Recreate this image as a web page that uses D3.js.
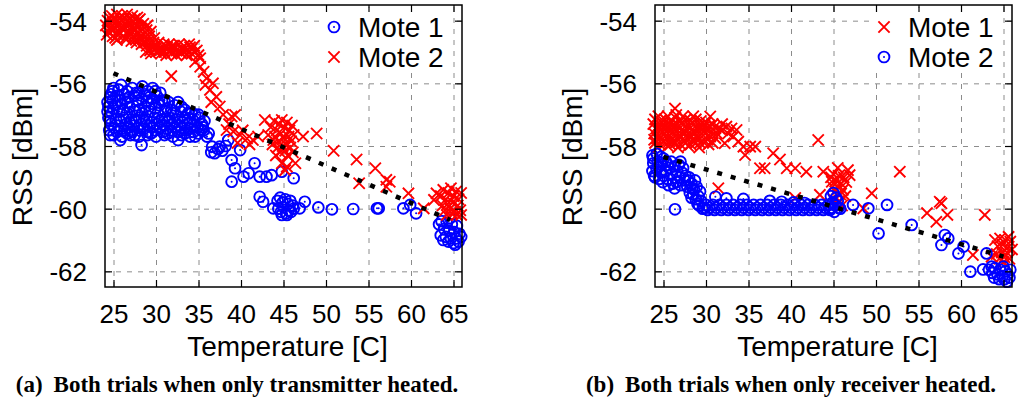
<!DOCTYPE html>
<html>
<head>
<meta charset="utf-8">
<script src="https://cdnjs.cloudflare.com/ajax/libs/d3/7.8.5/d3.min.js"></script>
<style>
body { margin: 0; background: #fff; }
svg text { font-family: "Liberation Sans", Arial, sans-serif; fill: #000; }
.caption { font-family: "Liberation Serif", "Times New Roman", serif; font-weight: bold; }
.grid line { stroke: #8c8c8c; stroke-width: 1; stroke-dasharray: 5,6; }
.grid path, .mirror path, .axis path { display: none; }
.axis line, .mirror line { stroke: #000; stroke-width: 1.2; }
</style>
</head>
<body>
<svg id="fig" width="1027" height="403"></svg>
<script>
// axis ticks / ranges
var xTicks = [25, 30, 35, 40, 45, 50, 55, 60, 65];
var yTicks = [-54, -56, -58, -60, -62];
var xDomain = [24, 66];
var yDomain = [-62.5, -53.5];

// (a) only transmitter heated : [temperature C, RSS dBm]
var txHeatedMote1 = [
  [25.0,-56.15],[25.9,-56.05],[26.6,-56.25],[27.2,-56.15],[28.0,-56.3],[28.4,-56.1],[29.0,-56.25],[29.6,-56.15],[24.7,-56.35],
  [24.6,-56.45],[25.5,-56.4],[26.4,-56.5],[27.4,-56.4],[28.3,-56.5],[29.2,-56.45],[30.1,-56.4],[31.0,-56.55],[30.5,-56.3],[24.3,-56.6],
  [24.4,-56.75],[25.2,-56.7],[26.0,-56.65],[26.9,-56.75],[27.8,-56.7],[28.7,-56.75],[29.5,-56.65],[30.4,-56.7],[31.3,-56.8],[32.2,-56.7],[33.0,-56.75],
  [24.8,-56.95],[25.7,-56.9],[26.6,-56.95],[27.5,-56.9],[28.4,-56.95],[29.3,-56.9],[30.2,-56.95],[31.1,-56.9],[32.0,-56.95],[32.9,-56.9],[33.8,-56.95],[34.6,-57.0],
  [24.4,-57.1],[25.3,-57.15],[26.2,-57.1],[27.1,-57.15],[28.0,-57.1],[28.9,-57.15],[29.8,-57.1],[30.7,-57.15],[31.6,-57.1],[32.5,-57.15],[33.4,-57.1],[34.3,-57.15],[35.1,-57.1],[35.7,-57.2],
  [24.7,-57.3],[25.6,-57.35],[26.5,-57.3],[27.4,-57.35],[28.3,-57.3],[29.2,-57.35],[30.1,-57.3],[31.0,-57.35],[31.9,-57.3],[32.8,-57.35],[33.7,-57.3],[34.6,-57.35],[35.4,-57.3],
  [24.5,-57.5],[25.4,-57.55],[26.3,-57.5],[27.2,-57.55],[28.1,-57.5],[29.0,-57.55],[29.9,-57.5],[30.8,-57.55],[31.7,-57.5],[32.6,-57.55],[33.5,-57.5],[34.4,-57.55],[35.3,-57.5],
  [25.0,-57.65],[26.0,-57.7],[27.0,-57.65],[28.0,-57.7],[29.0,-57.65],[30.0,-57.7],[31.0,-57.65],[32.0,-57.7],[33.0,-57.65],[34.0,-57.7],
  [24.9,-56.55],[26.7,-56.6],[28.9,-56.55],[30.7,-56.55],[25.8,-57.2],[27.6,-57.2],[29.5,-57.25],[31.4,-57.2],[33.1,-57.25],[25.1,-57.42],[27.8,-57.42],[30.5,-57.42],[33.0,-57.42],
  [24.9,-56.25],[25.6,-56.2],[26.3,-56.35],[27.7,-56.3],[28.7,-56.35],[29.9,-56.25],
  [25.0,-56.8],[25.8,-56.55],[26.8,-56.45],[27.9,-56.55],[29.6,-56.5],[30.3,-56.6],[31.5,-56.6],[32.6,-56.6],[33.4,-56.85],
  [24.3,-56.9],[26.1,-56.85],[28.0,-56.85],[29.9,-56.8],[31.8,-56.85],[34.2,-56.95],[35.0,-57.0],
  [24.6,-57.2],[26.9,-57.25],[28.6,-57.2],[30.4,-57.2],[32.2,-57.25],[34.0,-57.25],[35.5,-57.4],
  [25.9,-57.45],[26.8,-57.4],[28.6,-57.45],[29.6,-57.4],[31.3,-57.45],[32.2,-57.4],[34.0,-57.45],[34.9,-57.4],
  [24.6,-57.65],[26.6,-57.6],[27.5,-57.65],[29.4,-57.6],[31.4,-57.6],[33.4,-57.6],[35.0,-57.6],
  [25.8,-57.81],[28.3,-57.97],[32.6,-57.81],[34.6,-57.7],
  [35.6,-57.5],[36.0,-57.7],[36.2,-57.6],[36.6,-58.02],[36.9,-58.23],[37.3,-58.1],[37.5,-58.02],[37.8,-58.15],[36.5,-58.2],[38.2,-58.0],[38.5,-57.81],
  [39.9,-58.13],[38.9,-58.45],[39.3,-58.71],[41.6,-58.55],[38.9,-59.14],[40.3,-58.98],[40.9,-58.87],[42.2,-58.98],[43.0,-58.98],[43.6,-58.93],
  [42.2,-59.62],[42.6,-59.78],[43.8,-59.99],[44.8,-58.82],[46.2,-59.03],
  [44.3,-59.75],[44.6,-59.65],[44.9,-59.8],[45.2,-59.7],[45.5,-59.85],[45.8,-59.75],[46.1,-59.9],[44.4,-60.0],[44.7,-60.1],[45.0,-59.95],
  [45.3,-60.15],[45.6,-60.05],[45.9,-60.1],[46.2,-60.0],[44.8,-60.2],[45.4,-60.2],
  [46.9,-59.99],[47.5,-59.78],[49.1,-59.96],[50.7,-60.02],[53.2,-60.01],[56.0,-59.99],[56.2,-59.99],[59.1,-59.99],[59.9,-59.88],[60.6,-60.15],
  [63.3,-60.5],[63.6,-60.4],[63.9,-60.65],[64.2,-60.45],[64.5,-60.7],[64.8,-60.5],[65.1,-60.75],[65.4,-60.55],[65.7,-60.8],[63.5,-60.85],
  [63.8,-61.0],[64.1,-60.9],[64.4,-61.05],[64.7,-60.95],[65.0,-61.1],[65.3,-60.95],[65.6,-61.05],[65.9,-60.9],[64.6,-60.3],[65.2,-61.15]
];
var txHeatedMote2 = [
  [24.8,-53.85],[25.4,-53.8],[26.0,-53.85],[26.6,-53.8],[27.2,-53.85],[27.8,-53.9],
  [24.3,-54.0],[24.9,-54.05],[25.5,-54.0],[26.1,-54.05],[26.7,-54.0],[27.3,-54.05],[27.9,-54.0],[28.5,-54.1],[29.0,-54.15],
  [24.1,-54.15],[24.7,-54.2],[25.3,-54.15],[25.9,-54.2],[26.5,-54.15],[27.1,-54.2],[27.7,-54.15],[28.3,-54.25],[28.9,-54.3],[29.4,-54.35],
  [24.4,-54.35],[25.0,-54.3],[25.6,-54.35],[26.2,-54.3],[26.8,-54.35],[27.4,-54.3],[28.0,-54.4],[28.6,-54.45],[29.2,-54.5],[29.8,-54.55],
  [24.9,-54.5],[25.5,-54.45],[26.1,-54.5],[26.7,-54.45],[27.3,-54.5],[27.9,-54.55],[28.5,-54.6],[29.1,-54.65],[29.7,-54.7],[30.3,-54.7],[30.9,-54.75],
  [25.4,-54.62],[26.5,-54.6],[27.1,-54.65],[27.7,-54.7],[28.3,-54.75],[28.9,-54.8],[29.5,-54.85],[30.1,-54.85],[30.7,-54.9],[31.3,-54.85],[31.9,-54.8],
  [31.5,-54.75],[32.1,-54.8],[32.7,-54.75],[33.3,-54.8],[33.9,-54.75],[34.5,-54.8],
  [32.4,-54.95],[33.0,-54.9],[33.6,-54.95],[34.2,-54.9],[34.8,-54.95],
  [28.8,-55.0],[29.4,-55.05],[30.0,-55.0],[30.6,-55.05],[31.2,-55.1],[31.8,-55.05],[32.4,-55.1],[33.0,-55.05],[33.6,-55.1],[34.2,-55.05],[35.0,-55.1],
  [25.1,-53.95],[26.3,-53.92],[27.5,-53.95],[24.6,-54.25],[26.0,-54.25],[27.6,-54.3],[25.8,-54.4],[27.0,-54.4],[28.2,-54.55],[29.9,-54.9],
  [31.6,-54.95],[32.9,-55.0],[34.0,-54.85],
  [24.5,-53.9],[25.7,-53.9],[26.9,-53.95],[28.1,-53.95],[24.2,-54.45],[25.2,-54.55],[26.4,-54.55],[27.6,-54.6],[28.7,-54.7],[29.3,-54.95],
  [30.4,-54.95],[31.0,-55.0],[32.0,-54.9],[33.2,-54.95],[34.6,-55.0],[35.2,-55.2],
  [31.8,-55.77],
  [34.6,-55.31],[35.2,-55.47],[35.6,-55.63],[35.95,-55.84],[35.8,-56.05],[36.7,-56.0],[36.35,-56.21],[37.1,-56.43],[36.5,-56.6],[37.5,-56.74],
  [37.9,-57.0],[38.9,-57.06],[39.3,-57.01],[38.3,-57.49],[39.1,-57.54],[39.9,-57.65],[40.7,-57.76],[41.4,-57.81],[42.8,-57.17],[43.2,-57.65],
  [43.8,-57.81],[44.8,-57.17],[38.6,-57.3],[40.2,-57.5],[41.0,-57.95],[42.0,-57.7],[39.6,-57.9],
  [43.5,-57.4],[43.9,-57.2],[44.2,-57.5],[44.5,-57.3],[45.1,-57.4],[45.4,-57.25],[45.7,-57.5],[46.0,-57.35],[44.0,-57.7],[44.4,-57.85],
  [44.7,-57.6],[45.0,-57.75],[45.3,-57.95],[45.6,-57.7],[45.9,-57.85],[46.2,-57.65],[44.3,-58.05],[44.6,-58.2],[44.9,-58.0],[45.2,-58.15],
  [45.5,-58.3],[45.8,-58.05],[46.1,-58.2],[43.7,-57.95],[44.1,-58.3],[44.8,-58.55],[45.2,-58.77],[45.4,-58.66],[46.4,-58.55],
  [47.3,-57.7],[48.9,-57.6],[50.9,-58.15],[53.6,-58.43],[53.9,-59.19],[55.8,-58.71],[57.1,-59.08],[57.5,-59.14],[57.1,-59.3],[59.7,-59.51],
  [61.5,-59.99],[62.7,-59.72],[63.0,-59.51],
  [63.5,-59.6],[63.8,-59.4],[64.1,-59.7],[64.4,-59.5],[64.7,-59.35],[65.0,-59.6],[65.3,-59.45],[65.6,-59.7],[65.9,-59.5],[63.7,-59.9],
  [64.0,-60.05],[64.3,-59.85],[64.6,-60.0],[64.9,-59.8],[65.2,-60.1],[65.5,-59.9],[65.8,-60.05],[64.2,-60.2],[64.8,-60.15],[65.4,-60.2],[65.9,-60.2]
];
var txHeatedFit = [[25, -55.68], [64.6, -60.36]];

// (b) only receiver heated
var rxHeatedMote1 = [
  [24.0,-57.15],[24.6,-57.2],[25.2,-57.15],[25.8,-57.2],[26.4,-57.1],[27.0,-57.2],[27.6,-57.15],[28.2,-57.2],[28.8,-57.15],[29.4,-57.2],[30.0,-57.25],
  [23.8,-57.3],[24.4,-57.35],[25.0,-57.3],[25.6,-57.35],[26.2,-57.3],[26.8,-57.35],[27.4,-57.3],[28.0,-57.35],[28.6,-57.3],[29.2,-57.35],[29.8,-57.3],[30.4,-57.35],[31.0,-57.4],[31.6,-57.45],
  [24.1,-57.45],[24.7,-57.5],[25.3,-57.45],[25.9,-57.5],[26.5,-57.45],[27.1,-57.5],[27.7,-57.45],[28.3,-57.5],[28.9,-57.45],[29.5,-57.5],[30.1,-57.45],[30.7,-57.55],[31.3,-57.6],[31.9,-57.5],
  [23.9,-57.6],[24.5,-57.65],[25.1,-57.6],[25.7,-57.65],[26.3,-57.6],[26.9,-57.65],[27.5,-57.6],[28.1,-57.65],[28.7,-57.6],[29.3,-57.65],[29.9,-57.6],[30.5,-57.7],[31.1,-57.75],
  [24.2,-57.75],[24.8,-57.8],[25.4,-57.75],[26.0,-57.8],[26.6,-57.75],[27.2,-57.8],[27.8,-57.75],[28.4,-57.8],[29.0,-57.75],[29.6,-57.85],[30.2,-57.8],
  [24.0,-57.9],[24.6,-57.95],[25.2,-57.9],[25.8,-57.95],[26.4,-57.9],[27.0,-57.95],[27.6,-57.9],[28.2,-57.95],[28.8,-57.9],[30.3,-57.95],
  [24.3,-58.05],[25.5,-58.0],[26.7,-58.05],[27.9,-58.0],[29.2,-58.05],
  [24.4,-57.05],[25.5,-57.05],[27.3,-57.05],[28.5,-57.05],[24.9,-57.4],[26.1,-57.4],[27.4,-57.55],[28.6,-57.55],[29.7,-57.4],[24.6,-57.75],
  [25.7,-57.85],[27.0,-57.7],[28.3,-57.7],[29.3,-57.9],[23.9,-57.8],[30.8,-57.3],[31.9,-57.3],[32.6,-57.6],[33.2,-57.7],[30.8,-57.9],
  [26.35,-56.8],[26.5,-57.01],[30.5,-57.06],[31.45,-59.35],
  [32.4,-57.38],[33.0,-57.44],[33.6,-57.49],[32.2,-57.91],[33.8,-57.86],[34.4,-58.02],[34.6,-58.29],[35.2,-58.02],[35.8,-58.02],[36.35,-58.71],
  [36.9,-58.71],[37.9,-58.23],[38.7,-58.43],[39.5,-58.71],[40.5,-58.71],[41.8,-58.82],[43.2,-57.81],[43.8,-58.82],[43.4,-59.56],[44.8,-59.14],[40.5,-59.66],
  [44.7,-59.0],[45.0,-58.9],[45.3,-59.1],[45.6,-58.95],[45.9,-59.2],[46.2,-59.0],[46.5,-59.15],[44.9,-59.3],[45.2,-59.45],[45.5,-59.3],
  [45.8,-59.55],[46.1,-59.4],[46.4,-59.6],[45.0,-59.7],[45.4,-59.85],[45.7,-59.75],[46.0,-59.9],[46.7,-58.77],[46.9,-58.93],[45.5,-58.7],
  [49.5,-59.51],[48.5,-59.99],[52.8,-58.82],[56.0,-60.14],[57.1,-60.42],[57.7,-59.83],[57.5,-59.78],[58.4,-60.2],[62.8,-60.2],[61.4,-61.48],[63.6,-61.53],
  [64.0,-61.0],[64.3,-61.2],[64.6,-60.95],[64.9,-61.15],[65.2,-61.0],[65.5,-61.25],[65.8,-61.05],[64.2,-61.45],[64.5,-61.6],[64.8,-61.4],
  [65.1,-61.55],[65.4,-61.4],[65.7,-61.6],[66.0,-61.3],[65.0,-61.7],[65.6,-60.9]
];
var rxHeatedMote2 = [
  [23.7,-58.3],[24.2,-58.25],[24.7,-58.35],[23.8,-58.55],[24.3,-58.5],[24.8,-58.6],[25.3,-58.5],[23.7,-58.8],[24.2,-58.75],[24.7,-58.85],
  [25.2,-58.8],[25.7,-58.7],[24.0,-59.0],[24.5,-59.05],[25.0,-58.95],[25.5,-59.05],[26.0,-58.9],[26.3,-58.65],
  [26.6,-58.8],[26.9,-59.0],[27.2,-58.85],[26.5,-59.15],[27.0,-59.25],[27.5,-59.1],[27.8,-59.3],[26.1,-59.2],[25.6,-59.25],[27.3,-58.7],[26.8,-58.6],
  [28.0,-59.0],[28.3,-59.2],[28.6,-59.4],[28.1,-59.5],[28.5,-59.55],[28.9,-59.3],
  [29.1,-59.6],[29.4,-59.75],[29.2,-59.9],[29.6,-60.0],[28.8,-59.7],
  [23.8,-58.4],[24.4,-58.65],[25.0,-58.4],[25.5,-58.6],[23.9,-58.95],[24.9,-59.15],[25.9,-58.5],[26.3,-59.35],[27.0,-58.5],[27.6,-58.95],
  [27.9,-59.1],[28.4,-59.35],[28.7,-59.1],[28.3,-59.65],[29.0,-59.85],[29.3,-59.45],
  [30.0,-59.88],[30.8,-59.88],[31.6,-59.88],[32.4,-59.88],[33.2,-59.88],[34.0,-59.88],[34.8,-59.88],[35.6,-59.88],[36.4,-59.88],[37.2,-59.88],
  [38.0,-59.88],[38.8,-59.88],[39.6,-59.88],[40.4,-59.88],[41.2,-59.88],[42.0,-59.88],[42.8,-59.88],[43.6,-59.88],[44.4,-59.88],
  [29.8,-59.97],[30.4,-59.97],[31.2,-59.97],[32.0,-59.97],[32.8,-59.97],[33.6,-59.97],[34.4,-59.97],[35.2,-59.97],[36.0,-59.97],[36.8,-59.97],
  [37.6,-59.97],[38.4,-59.97],[39.2,-59.97],[40.0,-59.97],[40.8,-59.97],[41.6,-59.97],[42.4,-59.97],[43.2,-59.97],[44.0,-59.97],[44.8,-59.97],[45.6,-59.97],
  [30.2,-60.04],[31.0,-60.04],[31.8,-60.04],[32.6,-60.04],[33.4,-60.04],[34.2,-60.04],[35.0,-60.04],[35.8,-60.04],[36.6,-60.04],[37.4,-60.04],
  [38.2,-60.04],[39.0,-60.04],[39.8,-60.04],[40.6,-60.04],[41.4,-60.04],[42.2,-60.04],[43.0,-60.04],[43.8,-60.04],[44.6,-60.04],
  [26.35,-60.02],[31.1,-59.62],[32.4,-59.67],[34.4,-59.69],[37.5,-59.75],[38.9,-59.78],[40.3,-59.8],[41.6,-59.82],
  [44.7,-59.6],[45.0,-59.5],[45.3,-59.65],[44.9,-59.8],[45.2,-59.9],[45.5,-59.75],[45.8,-60.0],[45.1,-60.1],[44.6,-60.0],
  [47.3,-59.88],[49.1,-59.99],[51.3,-59.88],[50.3,-60.79],[54.2,-60.52],[58.1,-60.84],[57.7,-61.16],[58.5,-60.95],[59.7,-61.43],[60.3,-61.21],
  [61.1,-62.01],[62.6,-61.94],[63.0,-61.43],
  [63.3,-61.95],[63.7,-62.05],[64.0,-61.9],[64.3,-62.1],[64.6,-61.95],[64.9,-62.15],[65.2,-62.0],[65.5,-62.1],[65.8,-61.95],[63.9,-62.2],
  [64.5,-62.25],[65.1,-62.25],[65.7,-62.2],[65.4,-62.33],[63.6,-61.85],[65.0,-61.85]
];
var rxHeatedFit = [[25, -58.35], [65, -61.53]];

var captionA = "Both trials when only transmitter heated.";
var captionB = "Both trials when only receiver heated.";

(function(){
    var svg = d3.select("#fig");

    var plotW = 357,
        plotTop = 5,
        plotBottom = 287;

    var panels = [
        {left: 105, first: txHeatedMote1, second: txHeatedMote2, fit: txHeatedFit,
         firstKind: "circle", secondKind: "cross", tag: "(a)", caption: captionA, captionX: 237},
        {left: 655, first: rxHeatedMote1, second: rxHeatedMote2, fit: rxHeatedFit,
         firstKind: "cross", secondKind: "circle", tag: "(b)", caption: captionB, captionX: 791}
    ];

    panels.forEach(drawPanel);

    //blue circles with a centre dot
    function addCircles(g, pts, fx, fy){
        var grp = g.append("g").attr("class", "circles");
        grp.selectAll("circle.ring")
            .data(pts)
            .enter()
            .append("circle")
            .attr("class", "ring")
            .attr("cx", function(d){ return fx(d); })
            .attr("cy", function(d){ return fy(d); })
            .attr("r", 5.4)
            .attr("fill", "none")
            .attr("stroke", "#0000ff")
            .attr("stroke-width", 1.9);
        grp.selectAll("circle.dot")
            .data(pts)
            .enter()
            .append("circle")
            .attr("class", "dot")
            .attr("cx", function(d){ return fx(d); })
            .attr("cy", function(d){ return fy(d); })
            .attr("r", 1)
            .attr("fill", "#0000ff");
    }

    //red x marks
    function addCrosses(g, pts, fx, fy){
        g.append("g").attr("class", "crosses")
            .selectAll("path")
            .data(pts)
            .enter()
            .append("path")
            .attr("d", "M-5.6,-5.6L5.6,5.6M-5.6,5.6L5.6,-5.6")
            .attr("transform", function(d){ return "translate(" + fx(d) + "," + fy(d) + ")"; })
            .attr("fill", "none")
            .attr("stroke", "#ff0000")
            .attr("stroke-width", 1.9);
    }

    function addMarks(g, kind, pts, fx, fy){
        if (kind === "circle") addCircles(g, pts, fx, fy);
        else addCrosses(g, pts, fx, fy);
    }

    function drawPanel(p){
        var right = p.left + plotW;
        var x = d3.scaleLinear().domain(xDomain).range([p.left, right]);
        var y = d3.scaleLinear().domain(yDomain).range([plotBottom, plotTop]);
        var g = svg.append("g");

        //dashed grid
        g.append("g").attr("class", "grid")
            .attr("transform", "translate(0," + plotBottom + ")")
            .call(d3.axisBottom(x).tickValues(xTicks).tickSize(-(plotBottom - plotTop)).tickFormat(""));
        g.append("g").attr("class", "grid")
            .attr("transform", "translate(" + p.left + ",0)")
            .call(d3.axisLeft(y).tickValues(yTicks).tickSize(-plotW).tickFormat(""));

        //legend box hides grid behind it
        var lx = p.left + 215;
        g.append("rect")
            .attr("x", lx).attr("y", 8)
            .attr("width", 131).attr("height", 63)
            .attr("fill", "#fff");

        //data
        var fx = function(d){ return x(d[0]); },
            fy = function(d){ return y(d[1]); };
        addMarks(g, p.firstKind, p.first, fx, fy);
        addMarks(g, p.secondKind, p.second, fx, fy);

        //fit line
        g.append("path")
            .datum(p.fit)
            .attr("d", d3.line().x(fx).y(fy))
            .attr("fill", "none")
            .attr("stroke", "#000")
            .attr("stroke-width", 4.5)
            .attr("stroke-dasharray", "5,9");

        //axes with inward ticks, labels on bottom/left
        var bottomAxis = g.append("g").attr("class", "axis")
            .attr("transform", "translate(0," + plotBottom + ")")
            .call(d3.axisBottom(x).tickValues(xTicks).tickSizeInner(-7).tickSizeOuter(0).tickPadding(18));
        bottomAxis.selectAll("text").style("font-size", "26px");

        var leftAxis = g.append("g").attr("class", "axis")
            .attr("transform", "translate(" + p.left + ",0)")
            .call(d3.axisLeft(y).tickValues(yTicks).tickSizeInner(-7).tickSizeOuter(0).tickPadding(18)
                .tickFormat(function(d){ return String(d); }));
        leftAxis.selectAll("text").style("font-size", "26px").attr("dy", "0.36em");

        g.append("g").attr("class", "mirror")
            .attr("transform", "translate(0," + plotTop + ")")
            .call(d3.axisTop(x).tickValues(xTicks).tickSizeInner(-7).tickSizeOuter(0).tickFormat(""));
        g.append("g").attr("class", "mirror")
            .attr("transform", "translate(" + right + ",0)")
            .call(d3.axisRight(y).tickValues(yTicks).tickSizeInner(-7).tickSizeOuter(0).tickFormat(""));

        //frame
        g.append("rect")
            .attr("x", p.left).attr("y", plotTop)
            .attr("width", plotW).attr("height", plotBottom - plotTop)
            .attr("fill", "none")
            .attr("stroke", "#000")
            .attr("stroke-width", 1.5);

        //legend entries
        var legendRows = [
            {kind: p.firstKind, label: "Mote 1", cy: 27},
            {kind: p.secondKind, label: "Mote 2", cy: 57}
        ];
        legendRows.forEach(function(r){
            var mx = lx + 14;
            addMarks(g, r.kind, [r.cy], function(){ return mx; }, function(d){ return d; });
            g.append("text")
                .attr("x", lx + 38)
                .attr("y", r.cy + 10)
                .style("font-size", "28px")
                .text(r.label);
        });

        //axis titles
        g.append("text")
            .attr("text-anchor", "middle")
            .attr("x", (p.left + right) / 2 + 4)
            .attr("y", 356)
            .style("font-size", "28px")
            .text("Temperature [C]");
        g.append("text")
            .attr("text-anchor", "middle")
            .attr("transform", "translate(" + (p.left - 73) + "," + 157 + ") rotate(-90)")
            .style("font-size", "28px")
            .text("RSS [dBm]");

        //sub caption
        var cap = svg.append("text")
            .attr("class", "caption")
            .attr("text-anchor", "middle")
            .attr("x", p.captionX)
            .attr("y", 392)
            .style("font-size", "23px");
        cap.append("tspan").text(p.tag);
        cap.append("tspan").attr("dx", 11).text(p.caption);
    }
})();
</script>
</body>
</html>
